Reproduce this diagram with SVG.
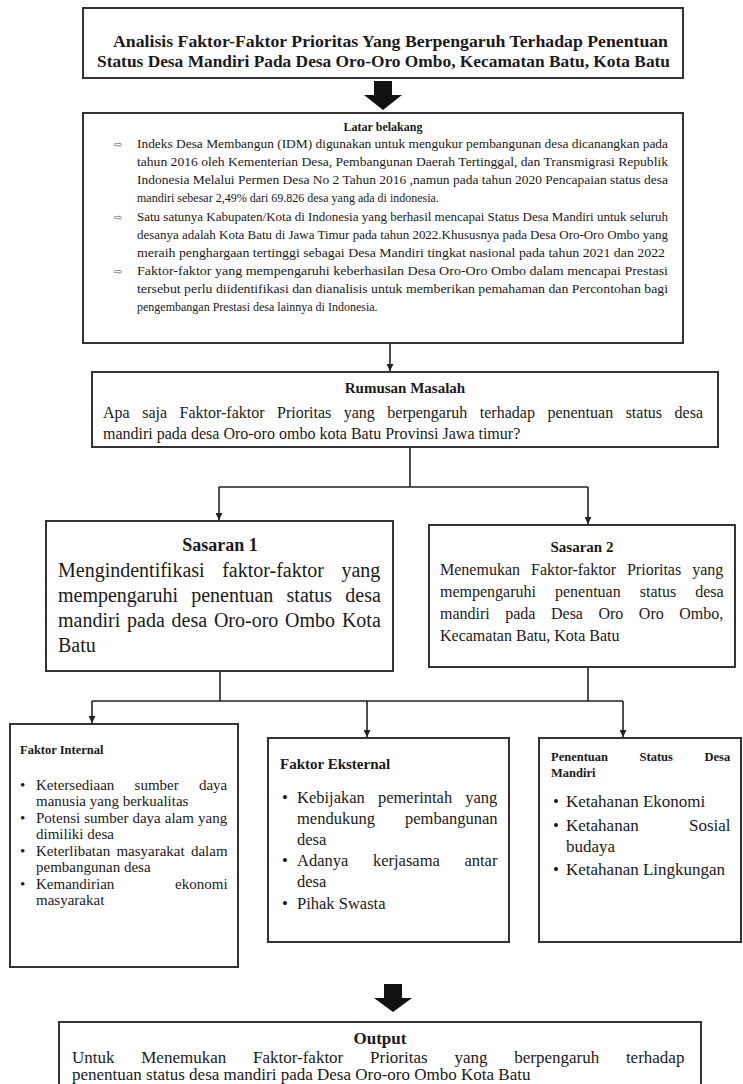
<svg xmlns="http://www.w3.org/2000/svg" width="743" height="1084" viewBox="0 0 743 1084">
<style>
text{font-family:"Liberation Serif","Times New Roman",serif;fill:#1a1a1a}
.box{fill:#fff;stroke:#333;stroke-width:2}
.b{font-weight:bold}
.c{text-anchor:middle}
.lb{font-size:12px}
.arw{font-family:"DejaVu Sans",sans-serif;font-size:10px;fill:#555}
.line{fill:none;stroke:#222;stroke-width:1.6}
.blk{fill:#111}
</style>
<defs>
<marker id="ah" viewBox="0 0 10 10" refX="10" refY="5" markerWidth="7" markerHeight="7" markerUnits="userSpaceOnUse" orient="auto">
<path d="M0,0 L10,5 L0,10 z" fill="#222"/>
</marker>
</defs>
<rect width="743" height="1084" fill="#fff"/>

<g id="connectors">
<path class="blk" d="M374,81 H392 V95 H402 L383,110 L364,95 H374 Z"/>
<path class="line" d="M390,343 V371" marker-end="url(#ah)"/>
<path class="line" d="M410,447 V487 M219,487 H588"/>
<path class="line" d="M219,487 V520" marker-end="url(#ah)"/>
<path class="line" d="M588,487 V524" marker-end="url(#ah)"/>
<path class="line" d="M220,671 V701 M588,667 V701 M92,701 H623"/>
<path class="line" d="M92,701 V723" marker-end="url(#ah)"/>
<path class="line" d="M367,701 V737" marker-end="url(#ah)"/>
<path class="line" d="M623,701 V737" marker-end="url(#ah)"/>
<path class="blk" d="M384,984 H402 V998 H412 L393,1012 L374,998 H384 Z"/>
</g>

<g id="title">
<rect class="box" x="83" y="8" width="600" height="70"/>
<text class="b" x="113" y="47" font-size="17" textLength="555" lengthAdjust="spacingAndGlyphs">Analisis Faktor-Faktor Prioritas Yang Berpengaruh Terhadap Penentuan</text>
<text class="b" x="97" y="67" font-size="17" textLength="573" lengthAdjust="spacingAndGlyphs">Status Desa Mandiri Pada Desa Oro-Oro Ombo, Kecamatan Batu, Kota Batu</text>
</g>

<g id="latar-belakang">
<rect class="box" x="83" y="113" width="600" height="230"/>
<text class="b c" x="383" y="131" font-size="12">Latar belakang</text>
<text class="arw" x="114" y="148">⇨</text>
<text class="lb" x="137" y="148" textLength="531" lengthAdjust="spacingAndGlyphs">Indeks Desa Membangun (IDM) digunakan untuk mengukur pembangunan desa dicanangkan pada</text>
<text class="lb" x="137" y="166" textLength="531" lengthAdjust="spacingAndGlyphs">tahun 2016 oleh Kementerian Desa, Pembangunan Daerah Tertinggal, dan Transmigrasi Republik</text>
<text class="lb" x="137" y="184" textLength="531" lengthAdjust="spacingAndGlyphs">Indonesia Melalui Permen Desa No 2 Tahun 2016 ,namun pada tahun 2020 Pencapaian status desa</text>
<text class="lb" x="137" y="202">mandiri sebesar 2,49% dari 69.826 desa yang ada di indonesia.</text>
<text class="arw" x="114" y="221">⇨</text>
<text class="lb" x="137" y="221" textLength="531" lengthAdjust="spacingAndGlyphs">Satu satunya Kabupaten/Kota di Indonesia  yang  berhasil mencapai Status Desa Mandiri untuk seluruh</text>
<text class="lb" x="137" y="239" textLength="531" lengthAdjust="spacingAndGlyphs">desanya adalah Kota Batu di Jawa Timur pada tahun 2022.Khususnya pada Desa Oro-Oro Ombo yang</text>
<text class="lb" x="137" y="257" textLength="528" lengthAdjust="spacingAndGlyphs">meraih penghargaan tertinggi sebagai Desa Mandiri tingkat nasional pada tahun 2021 dan 2022</text>
<text class="arw" x="114" y="275">⇨</text>
<text class="lb" x="137" y="275" textLength="531" lengthAdjust="spacingAndGlyphs">Faktor-faktor yang mempengaruhi keberhasilan Desa Oro-Oro Ombo dalam mencapai Prestasi</text>
<text class="lb" x="137" y="293" textLength="531" lengthAdjust="spacingAndGlyphs">tersebut perlu diidentifikasi  dan dianalisis untuk memberikan pemahaman dan Percontohan bagi</text>
<text class="lb" x="137" y="311">pengembangan Prestasi  desa lainnya di Indonesia.</text>
</g>

<g id="rumusan-masalah">
<rect class="box" x="92" y="372" width="626" height="75"/>
<text class="b c" x="405" y="393" font-size="15">Rumusan Masalah</text>
<text x="103" y="418" font-size="16" word-spacing="8.5">Apa saja Faktor-faktor Prioritas yang berpengaruh terhadap penentuan status desa</text>
<text x="103" y="439" font-size="16">mandiri pada desa Oro-oro ombo kota Batu Provinsi Jawa timur?</text>
</g>

<g id="sasaran-1">
<rect class="box" x="46" y="521" width="347" height="150"/>
<text class="b c" x="220" y="551" font-size="18">Sasaran 1</text>
<text x="58" y="577" font-size="20" word-spacing="12.5">Mengindentifikasi faktor-faktor yang</text>
<text x="58" y="602" font-size="20" word-spacing="8.2">mempengaruhi penentuan status desa</text>
<text x="58" y="627" font-size="20" word-spacing="1.8">mandiri pada desa Oro-oro Ombo Kota</text>
<text x="58" y="652" font-size="20">Batu</text>
</g>

<g id="sasaran-2">
<rect class="box" x="429" y="525" width="306" height="142"/>
<text class="b c" x="582" y="552" font-size="15">Sasaran 2</text>
<text x="440" y="575" font-size="16" word-spacing="7">Menemukan Faktor-faktor Prioritas yang</text>
<text x="440" y="597" font-size="16" word-spacing="15">mempengaruhi penentuan status desa</text>
<text x="440" y="619" font-size="16" word-spacing="11.5">mandiri pada Desa Oro Oro Ombo,</text>
<text x="440" y="641" font-size="16">Kecamatan Batu, Kota Batu</text>
</g>

<g id="faktor-internal">
<rect class="box" x="10" y="724" width="228" height="243"/>
<text class="b" x="20" y="754" font-size="12.5">Faktor Internal</text>
<g font-size="15">
<text x="20" y="790">•</text>
<text x="36" y="790" word-spacing="16.5">Ketersediaan sumber daya</text>
<text x="36" y="806">manusia yang berkualitas</text>
<text x="20" y="823">•</text>
<text x="36" y="823" word-spacing="0.3">Potensi sumber daya alam yang</text>
<text x="36" y="839">dimiliki desa</text>
<text x="20" y="856">•</text>
<text x="36" y="856" word-spacing="2.5">Keterlibatan masyarakat dalam</text>
<text x="36" y="872">pembangunan desa</text>
<text x="20" y="889">•</text>
<text x="36" y="889" word-spacing="57">Kemandirian ekonomi</text>
<text x="36" y="905">masyarakat</text>
</g>
</g>

<g id="faktor-eksternal">
<rect class="box" x="268" y="738" width="241" height="204"/>
<text class="b" x="280" y="769" font-size="15">Faktor Eksternal</text>
<g font-size="16.5">
<text x="282" y="803">•</text>
<text x="297" y="803" word-spacing="9">Kebijakan pemerintah yang</text>
<text x="297" y="824" word-spacing="26">mendukung pembangunan</text>
<text x="297" y="845">desa</text>
<text x="282" y="866">•</text>
<text x="297" y="866" word-spacing="20.5">Adanya kerjasama antar</text>
<text x="297" y="887">desa</text>
<text x="282" y="909">•</text>
<text x="297" y="909">Pihak Swasta</text>
</g>
</g>

<g id="penentuan-status">
<rect class="box" x="539" y="738" width="202" height="204"/>
<text class="b" x="551" y="761" font-size="12.5" word-spacing="28.5">Penentuan Status Desa</text>
<text class="b" x="551" y="777" font-size="12.5">Mandiri</text>
<g font-size="17">
<text x="553" y="807">•</text>
<text x="566" y="807">Ketahanan Ekonomi</text>
<text x="553" y="831">•</text>
<text x="566" y="831" word-spacing="46">Ketahanan Sosial</text>
<text x="566" y="852">budaya</text>
<text x="553" y="875">•</text>
<text x="566" y="875">Ketahanan Lingkungan</text>
</g>
</g>

<g id="output">
<rect class="box" x="59" y="1022" width="642" height="80"/>
<text class="b c" x="380" y="1044" font-size="17">Output</text>
<text x="72" y="1063" font-size="17" word-spacing="22.5">Untuk Menemukan Faktor-faktor Prioritas yang berpengaruh terhadap</text>
<text x="72" y="1080" font-size="17">penentuan status desa mandiri pada Desa Oro-oro Ombo Kota Batu</text>
</g>
</svg>
